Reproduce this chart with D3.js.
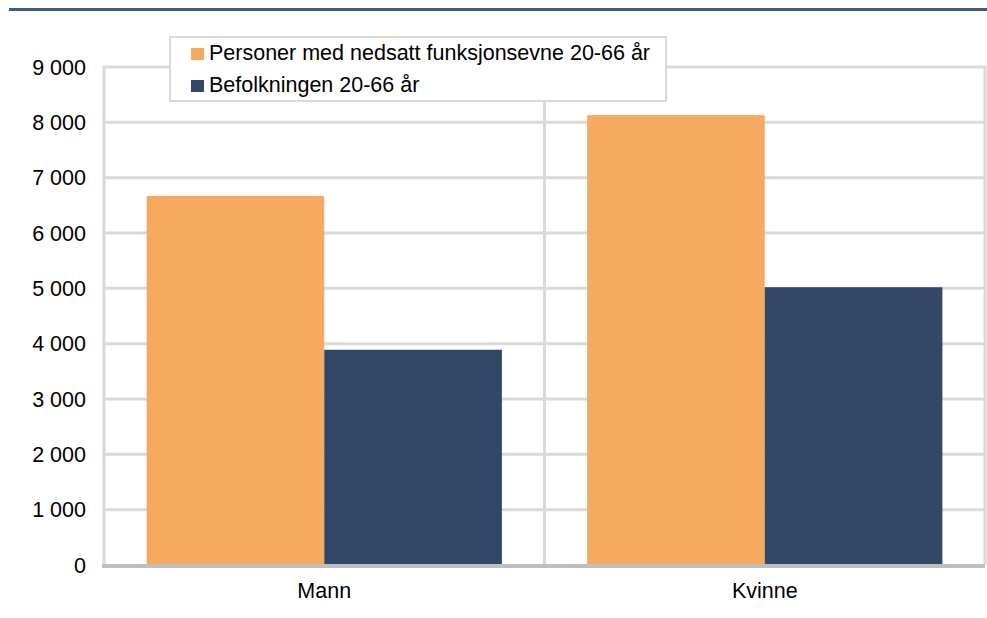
<!DOCTYPE html>
<html>
<head>
<meta charset="utf-8">
<script src="https://cdn.jsdelivr.net/npm/d3@7"></script>
<style>
  body { margin: 0; background: #fff; }
  svg { display: block; font-family: "Liberation Sans", Arial, sans-serif; }
</style>
</head>
<body>
<div id="chart"></div>
<script>
// data
const categories = ['Mann', 'Kvinne']
const seriesNames = ['Personer med nedsatt funksjonsevne 20-66 år', 'Befolkningen 20-66 år']
const personerMedNedsatt = [6670, 8130]
const befolkningen = [3890, 5020]
const yTicks = [0, 1000, 2000, 3000, 4000, 5000, 6000, 7000, 8000, 9000]

const colors = ['#f6aa5f', '#334767']

const width = 987
const height = 618
const margin = {top: 67, right: 2, bottom: 53, left: 104}
const fontSize = 21.5

const svg = d3.select('#chart').append('svg')
  .attr('width', width)
  .attr('height', height)

// blue rule at the top
svg.append('line')
  .attr('x1', 9).attr('x2', width)
  .attr('y1', 9.5).attr('y2', 9.5)
  .attr('stroke', '#3e5a86')
  .attr('stroke-width', 3)

const x0 = d3.scaleBand()
  .domain(categories)
  .range([margin.left, width - margin.right])
  .padding(0)

const x1 = d3.scaleBand()
  .domain(d3.range(seriesNames.length))
  .range([0, x0.bandwidth()])
  .paddingInner(0)
  .paddingOuter(0.24)

const y = d3.scaleLinear()
  .domain([0, 9000])
  .range([height - margin.bottom, margin.top])

const fmt = d => d3.format(',')(d).replace(/,/g, ' ')

// horizontal gridlines
svg.append('g')
  .selectAll('line')
  .data(yTicks.filter(d => d > 0))
  .join('line')
  .attr('x1', margin.left).attr('x2', width - margin.right)
  .attr('y1', d => y(d)).attr('y2', d => y(d))
  .attr('stroke', '#d9d9d9')
  .attr('stroke-width', 3)

// vertical gridlines (left axis, category boundary, right edge)
const vx = [margin.left, x0('Kvinne'), width - margin.right]
svg.append('g')
  .selectAll('line')
  .data(vx)
  .join('line')
  .attr('x1', d => d).attr('x2', d => d)
  .attr('y1', y(9000) - 1.5).attr('y2', y(0))
  .attr('stroke', '#d9d9d9')
  .attr('stroke-width', 3)

// bars
const rows = categories.map((c, i) => ({cat: c, vals: [personerMedNedsatt[i], befolkningen[i]]}))

svg.append('g')
  .selectAll('g')
  .data(rows)
  .join('g')
  .attr('transform', d => 'translate(' + x0(d.cat) + ',0)')
  .selectAll('rect')
  .data(d => d.vals.map((v, k) => ({k: k, v: v})))
  .join('rect')
  .attr('x', d => x1(d.k))
  .attr('width', x1.bandwidth())
  .attr('y', d => y(d.v))
  .attr('height', d => y(0) - y(d.v))
  .attr('fill', d => colors[d.k])

// baseline
svg.append('line')
  .attr('x1', margin.left - 2).attr('x2', width - margin.right)
  .attr('y1', y(0) + 1).attr('y2', y(0) + 1)
  .attr('stroke', '#bfbfbf')
  .attr('stroke-width', 4)

// y tick labels
svg.append('g')
  .selectAll('text')
  .data(yTicks)
  .join('text')
  .attr('x', 86)
  .attr('y', d => y(d))
  .attr('dy', '0.35em')
  .attr('text-anchor', 'end')
  .attr('font-size', fontSize)
  .attr('fill', '#000')
  .text(fmt)

// category labels
svg.append('g')
  .selectAll('text')
  .data(categories)
  .join('text')
  .attr('x', d => x0(d) + x0.bandwidth() / 2)
  .attr('y', 598)
  .attr('text-anchor', 'middle')
  .attr('font-size', fontSize)
  .attr('fill', '#000')
  .text(d => d)

// legend
const legend = svg.append('g').attr('transform', 'translate(170,37)')
legend.append('rect')
  .attr('width', 496).attr('height', 64)
  .attr('fill', '#fff')
  .attr('stroke', '#d9d9d9')
  .attr('stroke-width', 2)

const item = legend.selectAll('g')
  .data(seriesNames)
  .join('g')
  .attr('transform', (d, i) => 'translate(21,' + (11 + i * 32) + ')')

item.append('rect')
  .attr('width', 13).attr('height', 12)
  .attr('fill', (d, i) => colors[i])

item.append('text')
  .attr('x', 18)
  .attr('y', 12)
  .attr('font-size', fontSize)
  .attr('fill', '#000')
  .text(d => d)
</script>
</body>
</html>
